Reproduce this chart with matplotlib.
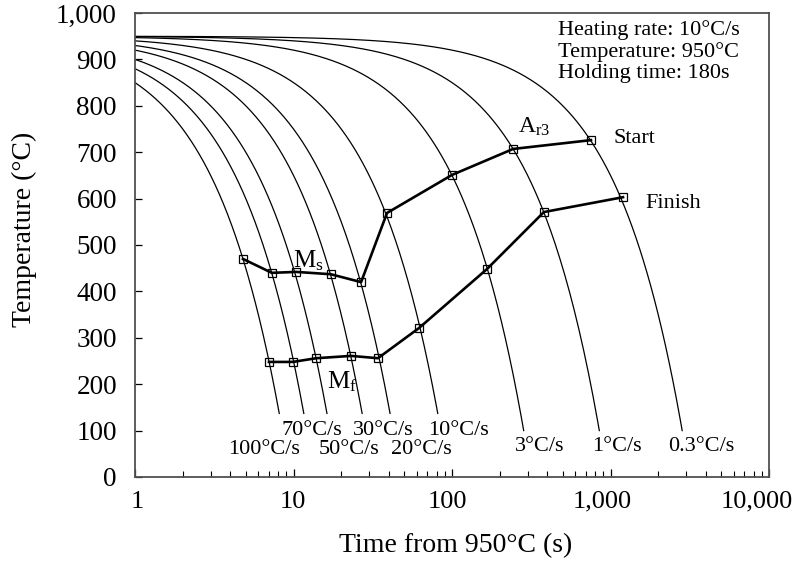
import numpy as np
import matplotlib
matplotlib.use('Agg')
import matplotlib.pyplot as plt
import matplotlib.ticker as ticker
import matplotlib.transforms as mtransforms

plt.rcParams['font.family'] = ['Liberation Serif', 'DejaVu Serif']
plt.rcParams['mathtext.fontset'] = 'custom'
plt.rcParams['mathtext.rm'] = 'Liberation Serif'
plt.rcParams['mathtext.it'] = 'Liberation Serif'

# cooling rates (°C/s) from 950 °C and the temperature where each curve stops
rates = [100, 70, 50, 30, 20, 10, 3, 1, 0.3]
end_temps = [137, 137, 137, 137, 137, 137, 100, 100, 100]
rate_labels = ['100°C/s', '70°C/s', '50°C/s', '30°C/s', '20°C/s',
               '10°C/s', '3°C/s', '1°C/s', '0.3°C/s']
label_x = [6.5, 13.0, 22.5, 37.0, 64.0, 110.0, 360.0, 1090.0, 3750.0]
label_y = [60, 101, 60, 101, 60, 101, 66, 66, 66]
start_temp = 950

# transformation start: Ms then Ar3
start_t = [4.8, 7.3, 10.4, 17.2, 26.7, 38.9, 100, 243, 753]
start_T = [470, 440, 442, 437, 420, 569, 651, 707, 726]
# transformation finish: Mf then ferrite/pearlite finish
finish_t = [7.0, 9.9, 13.9, 23.1, 34.1, 61.9, 166, 380, 1199]
finish_T = [248, 248, 256, 261, 256, 321, 448, 571, 603]

# the x tick labels sit a little left of their ticks in the original
xlabel_shift = {'1': 2, '10': -1, '100': -5, '1,000': -8, '10,000': -12}

fig = plt.figure(figsize=(7.98, 5.65), dpi=100)
ax = fig.add_axes([135 / 798, 88 / 565, 634 / 798, 464 / 565])

for r, te in zip(rates, end_temps):
    t = np.logspace(-0.03, np.log10((start_temp - te) / r), 300)
    ax.plot(t, start_temp - r * t, color='black', lw=0.9)

ax.plot(start_t, start_T, color='black', lw=1.9, marker='s', ms=6,
        mfc='none', mec='black', mew=0.9)
ax.plot(finish_t, finish_T, color='black', lw=1.9, marker='s', ms=6,
        mfc='none', mec='black', mew=0.9)

for lab, x, y in zip(rate_labels, label_x, label_y):
    ax.text(x, y, lab, fontsize=16, ha='center', va='center')

ax.text(9.9, 452, r'$\mathrm{M_s}$', fontsize=18, ha='left', va='baseline')
ax.text(16.3, 192, r'$\mathrm{M_f}$', fontsize=18, ha='left', va='baseline')
ax.text(261, 741, r'$\mathrm{A_{r3}}$', fontsize=17, ha='left', va='baseline')
ax.text(1038, 720, 'Start', fontsize=16, ha='left', va='baseline')
ax.text(1651, 580, 'Finish', fontsize=16, ha='left', va='baseline')

ax.text(0.667, 0.985, 'Heating rate: 10°C/s\nTemperature: 950°C\nHolding time: 180s',
        transform=ax.transAxes, fontsize=16, ha='left', va='top', linespacing=1.15)

ax.set_xscale('log')
ax.set_xlim(1, 10000)
ax.set_ylim(0, 1000)
ax.yaxis.set_major_locator(ticker.MultipleLocator(100))
fmt = ticker.FuncFormatter(lambda v, p: '{:,.0f}'.format(v))
ax.xaxis.set_major_formatter(fmt)
ax.yaxis.set_major_formatter(fmt)
ax.xaxis.set_minor_formatter(ticker.NullFormatter())

ax.tick_params(axis='x', which='major', direction='in', length=6, width=0.9,
               labelsize=19, pad=10)
ax.tick_params(axis='x', which='minor', direction='in', length=4, width=0.8)
ax.tick_params(axis='y', direction='in', length=5, width=0.9, labelsize=19.5, pad=13)

for s in ax.spines.values():
    s.set_color('#505050')
    s.set_linewidth(1.3)

ax.set_xlabel('Time from 950°C (s)', fontsize=20)
ax.xaxis.set_label_coords(0.506, -0.12)
ax.set_ylabel('Temperature (°C)', fontsize=20)
ax.yaxis.set_label_coords(-0.155, 0.534)

fig.canvas.draw()
for tick in ax.xaxis.get_major_ticks():
    lab = tick.label1
    dx = xlabel_shift.get(lab.get_text(), 0)
    if dx:
        off = mtransforms.ScaledTranslation(dx / 100, 0, fig.dpi_scale_trans)
        lab.set_transform(lab.get_transform() + off)

fig.savefig('out.png', dpi=100)
